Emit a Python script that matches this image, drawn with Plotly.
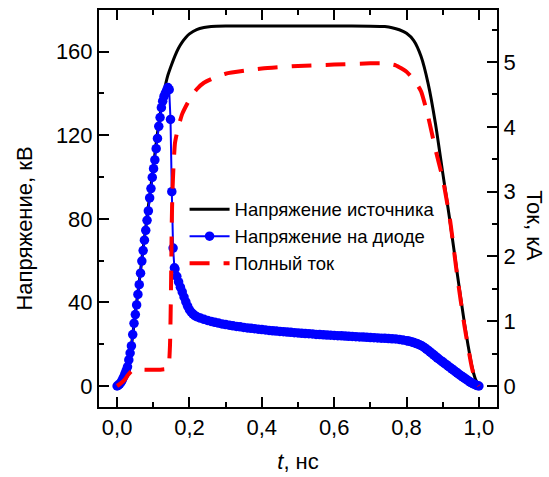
import plotly.graph_objects as go

# --- Source voltage, kV ---
t_src = [0.00, 0.01, 0.02, 0.03, 0.04, 0.05, 0.06, 0.07, 0.08, 0.09,
         0.10, 0.11, 0.12, 0.13, 0.14, 0.15, 0.16, 0.17, 0.18, 0.19,
         0.20, 0.22, 0.24, 0.26, 0.30, 0.40, 0.50, 0.60, 0.70, 0.74,
         0.76, 0.78, 0.80, 0.82, 0.84, 0.86, 0.88, 0.90, 0.92, 0.94,
         0.96, 0.97, 0.98, 0.99, 1.00]
v_src = [0.0, 1.5, 5.0, 10.5, 20.0, 34.5, 48.0, 63.0, 77.0, 91.0,
         104.5, 119.0, 131.0, 141.0, 148.5, 153.5, 158.0, 161.8, 164.6, 166.8,
         168.5, 170.6, 171.6, 172.1, 172.3, 172.3, 172.3, 172.3, 172.2, 172.0,
         171.5, 170.5, 168.8, 165.3, 157.8, 144.5, 125.5, 102.0, 79.0, 54.0,
         30.0, 19.5, 10.0, 3.5, 0.0]

# --- Diode voltage, kV ---
t_diode = [0.0000, 0.0036, 0.0072, 0.0108, 0.0144, 0.0180, 0.0216, 0.0252, 0.0288, 0.0324,
           0.0360, 0.0396, 0.0432, 0.0468, 0.0504, 0.0540, 0.0576, 0.0612, 0.0648, 0.0684,
           0.0720, 0.0756, 0.0792, 0.0828, 0.0864, 0.0900, 0.0936, 0.0972, 0.1008, 0.1044,
           0.1080, 0.1116, 0.1152, 0.1188, 0.1224, 0.1260, 0.1296, 0.1332, 0.1368, 0.1404,
           0.1440, 0.1476, 0.1512, 0.1548, 0.1584,
           0.160, 0.165, 0.170, 0.175, 0.180, 0.185, 0.190, 0.195, 0.200, 0.205,
           0.210, 0.215, 0.220, 0.230, 0.240, 0.250, 0.260, 0.270, 0.280, 0.290,
           0.30, 0.31, 0.32, 0.33, 0.34, 0.35, 0.36, 0.37, 0.38, 0.39,
           0.40, 0.41, 0.42, 0.43, 0.44, 0.45, 0.46, 0.47, 0.48, 0.49,
           0.50, 0.51, 0.52, 0.53, 0.54, 0.55, 0.56, 0.57, 0.58, 0.59,
           0.60, 0.61, 0.62, 0.63, 0.64, 0.65, 0.66, 0.67, 0.68, 0.69,
           0.70, 0.71, 0.72, 0.73, 0.74, 0.75, 0.76, 0.77, 0.78, 0.79,
           0.800, 0.805, 0.810, 0.815, 0.820, 0.825, 0.830, 0.835, 0.840, 0.845,
           0.850, 0.855, 0.860, 0.865, 0.870, 0.875, 0.880, 0.885, 0.890, 0.895,
           0.900, 0.905, 0.910, 0.915, 0.920, 0.925, 0.930, 0.935, 0.940, 0.945,
           0.950, 0.955, 0.960, 0.965, 0.970, 0.975, 0.980, 0.985, 0.990, 0.995, 1.000]
v_diode = [0.0, 0.4, 1.0, 1.8, 2.9, 4.3, 5.8, 7.4, 9.2, 12.5,
           15.8, 19.2, 24.6, 30.0, 34.2, 38.8, 43.8, 48.5, 54.0, 59.8,
           64.8, 69.8, 74.5, 79.3, 83.8, 90.0, 94.5, 99.8, 104.0, 108.2,
           113.6, 118.5, 124.3, 128.5, 133.2, 136.3, 138.6, 140.0, 141.4, 142.8,
           141.8, 127.6, 93.0, 66.0, 56.6,
           56.0, 52.5, 49.8, 47.3, 45.0, 42.6, 40.3, 38.2, 36.5, 35.3,
           34.4, 33.7, 33.2, 32.5, 31.9, 31.4, 30.9, 30.5, 30.1, 29.7,
           29.4, 29.1, 28.8, 28.5, 28.3, 28.0, 27.8, 27.6, 27.4, 27.2,
           27.0, 26.8, 26.6, 26.4, 26.3, 26.1, 26.0, 25.8, 25.7, 25.5,
           25.4, 25.2, 25.1, 25.0, 24.9, 24.7, 24.6, 24.5, 24.4, 24.3,
           24.2, 24.1, 24.0, 23.9, 23.8, 23.7, 23.6, 23.5, 23.4, 23.3,
           23.2, 23.1, 23.0, 22.9, 22.8, 22.7, 22.6, 22.5, 22.3, 22.0,
           21.7, 21.5, 21.3, 21.1, 20.8, 20.5, 20.2, 19.8, 19.4, 18.9,
           18.3, 17.7, 17.0, 16.3, 15.6, 14.9, 14.2, 13.5, 12.8, 12.1,
           11.5, 10.8, 10.2, 9.5, 8.9, 8.2, 7.6, 6.9, 6.3, 5.6,
           5.0, 4.4, 3.8, 3.2, 2.6, 2.0, 1.5, 1.0, 0.6, 0.2, 0.0]

# --- Total current, kA ---
t_cur = [0.00, 0.01, 0.02, 0.03, 0.04, 0.05, 0.08, 0.11, 0.13, 0.141,
         0.146, 0.149, 0.151, 0.153, 0.156, 0.160, 0.168, 0.180, 0.200, 0.220,
         0.240, 0.270, 0.300, 0.400, 0.500, 0.600, 0.700, 0.740, 0.770, 0.800,
         0.820, 0.840, 0.860, 0.880, 0.900, 0.920, 0.940, 0.960, 0.980, 0.990, 1.000]
i_cur = [0.00, 0.04, 0.09, 0.17, 0.23, 0.25, 0.25, 0.25, 0.26, 0.27,
         0.60, 1.50, 2.50, 3.00, 3.40, 3.75, 3.97, 4.20, 4.42, 4.58,
         4.68, 4.76, 4.82, 4.90, 4.94, 4.96, 4.98, 4.98, 4.95, 4.85,
         4.73, 4.55, 4.15, 3.65, 3.20, 2.57, 1.70, 0.93, 0.30, 0.09, 0.00]

FONT = "Liberation Sans, Arial, sans-serif"

fig = go.Figure()
fig.add_trace(go.Scatter(
    x=t_src, y=v_src, mode="lines", name="Напряжение источника",
    line=dict(color="black", width=3, shape="spline", smoothing=0.6)))
fig.add_trace(go.Scatter(
    x=t_diode, y=v_diode, mode="lines+markers", name="Напряжение на диоде",
    line=dict(color="#0000ff", width=2),
    marker=dict(color="#0000ff", size=9.5, symbol="circle")))
fig.add_trace(go.Scatter(
    x=t_cur, y=i_cur, mode="lines", name="Полный ток", yaxis="y2",
    line=dict(color="#ff0000", width=4, dash="20px,14px", shape="spline", smoothing=0.5)))

tick_font = dict(family=FONT, size=22, color="black")

fig.update_layout(
    width=549, height=477,
    margin=dict(l=99, r=52, t=10, b=70, autoexpand=False),
    paper_bgcolor="white", plot_bgcolor="white",
    separators=", ",
    font=dict(family=FONT, size=22, color="black"),
    showlegend=True,
    legend=dict(
        x=0.215, y=0.545, xanchor="left", yanchor="top",
        bgcolor="rgba(255,255,255,0)", borderwidth=0,
        font=dict(family=FONT, size=18.5, color="black"),
        itemwidth=40, tracegroupgap=0,
    ),
    xaxis=dict(
        range=[-0.05, 1.05], tick0=0, dtick=0.2, tickformat=".1f",
        ticks="inside", ticklen=10, tickwidth=2, tickcolor="black",
        minor=dict(ticks="inside", dtick=0.1, ticklen=5, tickwidth=2, tickcolor="black"),
        showline=True, linewidth=2, linecolor="black", mirror="ticks",
        showgrid=False, zeroline=False, tickfont=tick_font,
        title=dict(text="<i>t</i>, нс", font=tick_font, standoff=14),
    ),
    yaxis=dict(
        range=[-10.05, 179.95], tick0=0, dtick=40,
        ticks="inside", ticklen=10, tickwidth=2, tickcolor="black",
        minor=dict(ticks="inside", dtick=20, ticklen=5, tickwidth=2, tickcolor="black"),
        showline=True, linewidth=2, linecolor="black",
        showgrid=False, zeroline=False, tickfont=tick_font,
    ),
    yaxis2=dict(
        range=[-0.324, 5.803], tick0=0, dtick=1, overlaying="y", side="right",
        ticks="inside", ticklen=10, tickwidth=2, tickcolor="black",
        minor=dict(ticks="inside", dtick=0.5, ticklen=5, tickwidth=2, tickcolor="black"),
        showline=True, linewidth=2, linecolor="black",
        showgrid=False, zeroline=False, tickfont=tick_font,
    ),
    annotations=[
        dict(text="Напряжение, кВ", xref="paper", yref="paper",
             x=-0.188, y=0.45, xanchor="center", yanchor="middle",
             textangle=-90, showarrow=False, font=tick_font),
        dict(text="Ток, кА", xref="paper", yref="paper",
             x=1.095, y=0.458, xanchor="center", yanchor="middle",
             textangle=90, showarrow=False, font=tick_font),
    ],
)

fig.write_html("out.html")
